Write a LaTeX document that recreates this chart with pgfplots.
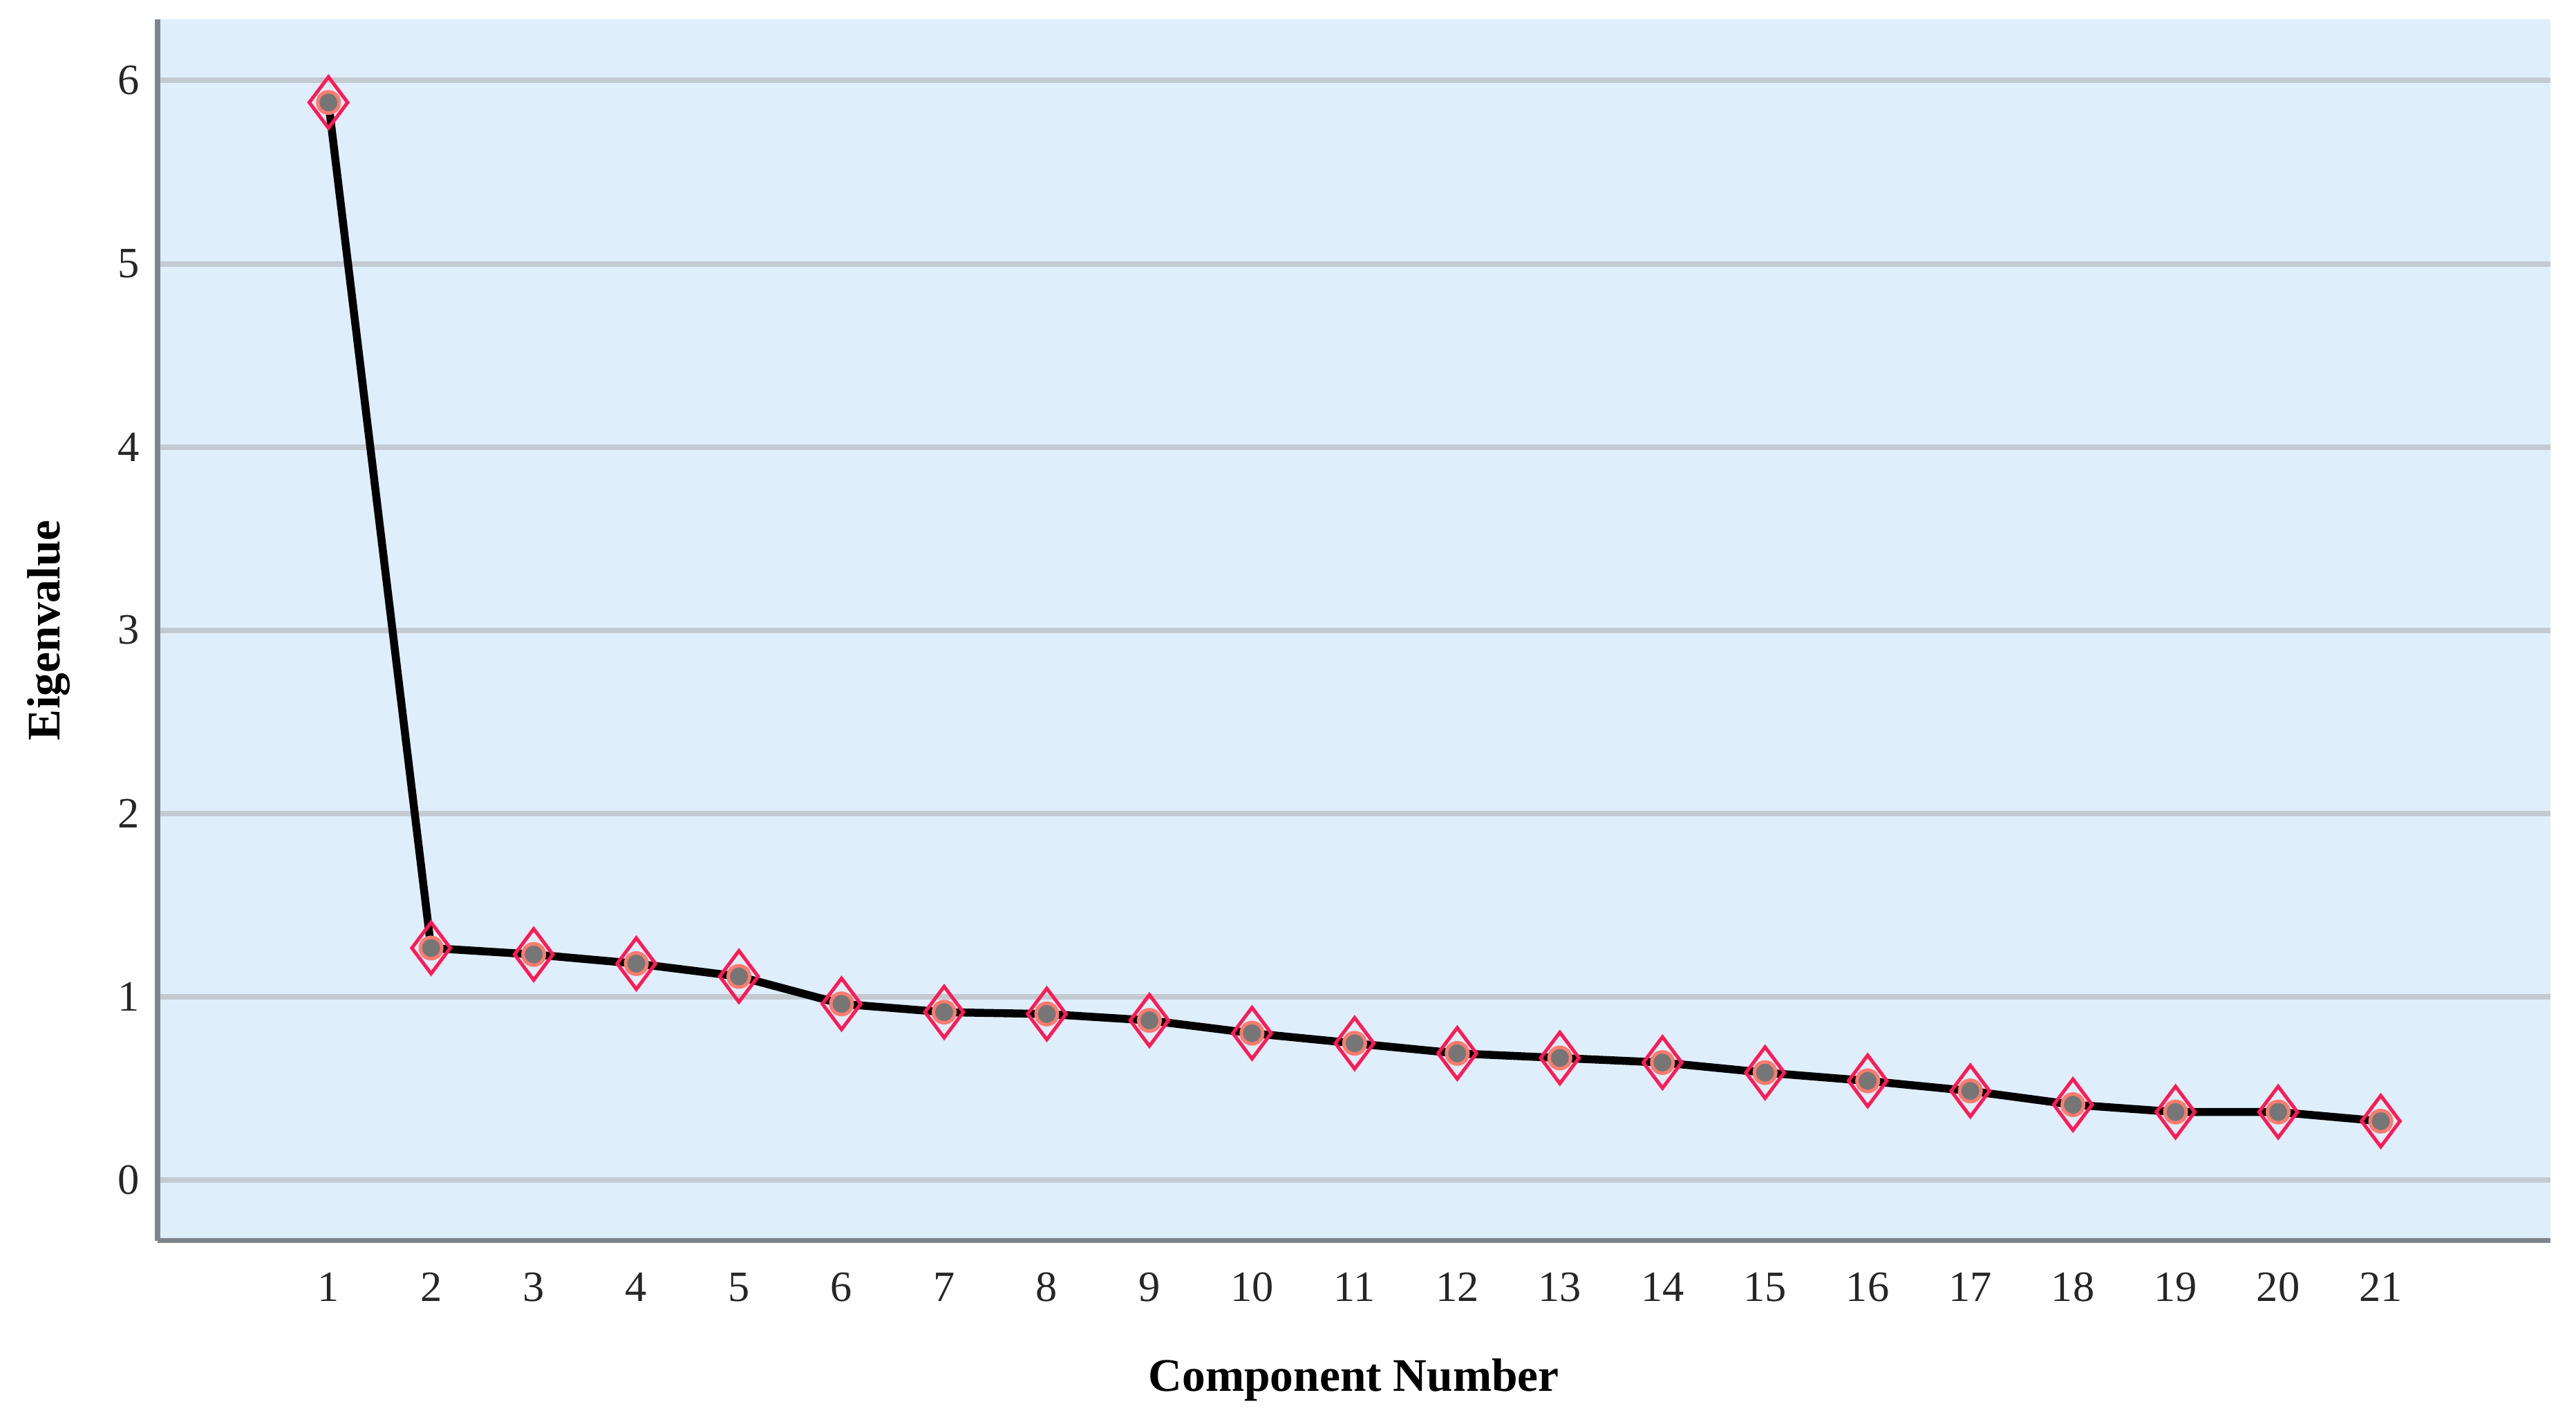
\documentclass[border=0pt]{standalone}
\usepackage{pgfplots}
\pgfplotsset{compat=1.18}
\usepackage{pgfplotstable}
\usepackage{fontspec}
\setmainfont{Liberation Serif}
\definecolor{bgblue}{HTML}{DFEEFB}
\definecolor{gridgray}{HTML}{C3CAD1}
\definecolor{spinegray}{HTML}{7D858A}
\definecolor{diamred}{HTML}{FF1A55}
\definecolor{dotgray}{HTML}{767676}
\definecolor{halo}{HTML}{FF7B6E}
\pgfplotstableread{
x y
1 5.88
2 1.265
3 1.23
4 1.18
5 1.11
6 0.96
7 0.915
8 0.905
9 0.87
10 0.80
11 0.745
12 0.69
13 0.665
14 0.64
15 0.585
16 0.54
17 0.485
18 0.41
19 0.37
20 0.37
21 0.32
}\eigtable
\begin{document}
\begin{tikzpicture}
\begin{axis}[
  scale only axis, width=692.2pt, height=353.2pt,
  xmin=-0.665, xmax=22.65, ymin=-0.332, ymax=6.332,
  axis background/.style={fill=bgblue},
  axis x line*=bottom, axis y line*=left,
  axis line style={-, spinegray, line width=1.5pt},
  xtick={1,...,21}, ytick={0,...,6},
  major tick length=0pt,
  ymajorgrids, grid style={gridgray, line width=1.6pt},
  tick label style={font=\fontsize{12.5}{14}\selectfont, text=black!85},
  /pgf/number format/assume math mode=true,
  yticklabel style={xshift=-1.7pt},
  xticklabel style={yshift=-5.8pt},
  xlabel={\textbf{Component Number}},
  ylabel={\textbf{Eigenvalue}},
  label style={font=\fontsize{13.5}{16}\selectfont},
  xlabel style={at={(axis description cs:0.5,0)}, anchor=center, yshift=-40.4pt},
  ylabel style={at={(axis description cs:0,0.5)}, anchor=center, yshift=31.4pt},
  clip=false,
]
\addplot[black, line width=2.3pt, no marks] table[x=x,y=y] {\eigtable};
\addplot[only marks, mark=*, mark size=3.1pt, mark options={fill=dotgray, draw=halo, line width=1pt}] table[x=x,y=y] {\eigtable};
\addplot[only marks, mark=diamond, mark size=7.4pt, mark options={draw=diamred, fill=none, line width=1pt}] table[x=x,y=y] {\eigtable};
\end{axis}
\pgfresetboundingbox
\path (-45.6pt,-53pt) rectangle (699.7pt,358.9pt);
\end{tikzpicture}
\end{document}
